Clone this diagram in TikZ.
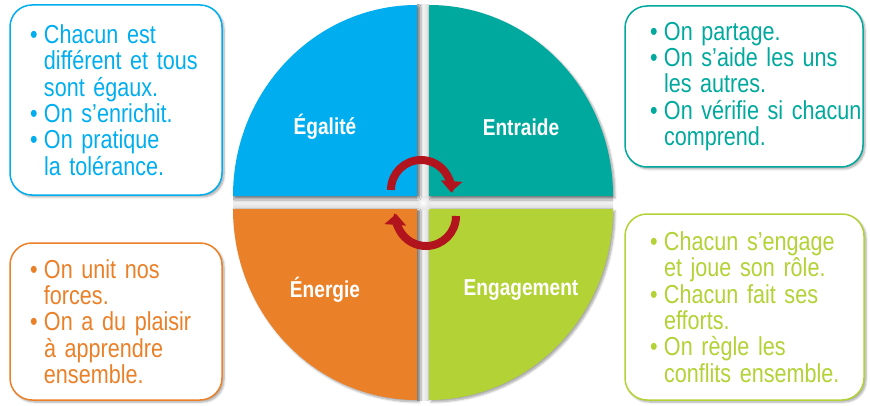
\documentclass[tikz,border=0pt]{standalone}
\usepackage{fontspec}
\setmainfont{Liberation Sans}[FakeStretch=0.83, WordSpace=0.62]
\usepackage{tikz}
\usetikzlibrary{arrows.meta, shadows.blur}

\definecolor{bleu}{RGB}{0,174,239}
\definecolor{sarcelle}{RGB}{0,169,157}
\definecolor{orange}{RGB}{234,128,40}
\definecolor{vert}{RGB}{178,210,53}
\definecolor{rouge}{RGB}{178,20,30}

\newcommand{\puce}[1]{\mbox{\makebox[14pt][l]{\textbullet}#1}}
\newcommand{\retrait}[1]{\mbox{\hspace*{14pt}#1}}

\tikzset{
	ombre/.style={blur shadow={shadow xshift=2pt, shadow yshift=-2pt, shadow blur steps=6, shadow opacity=35}},
	quart/.style={fill=#1, ombre},
	titre/.style={text=white, font=\fontsize{23}{25}\selectfont\bfseries},
	bulle/.style={draw=#1, text=#1, fill=white, line width=1.5pt, rounded corners=22pt, align=left, font=\fontsize{26}{26.3}\selectfont, ombre},
	fleche/.style={draw=rouge, line width=8pt, -{Triangle[width=21pt,length=11pt]}},
}

\begin{document}
\begin{tikzpicture}[x=1pt, y=1pt]
	\useasboundingbox (0,0) rectangle (870,405);
	
		% croix grise entre les quarts
		\shade[left color=gray!60, right color=gray!30, middle color=gray!10] (417,5) rectangle (429,400);
		\shade[top color=gray!55, bottom color=gray!30, middle color=gray!10] (233,196) rectangle (613,209);
		\shade[inner color=white, outer color=gray!20] (417,196) rectangle (429,209);
		
		\fill[quart=bleu] (417,209) -- (417,400) arc[start angle=90, end angle=180, x radius=184, y radius=191] -- cycle;
		\fill[quart=sarcelle] (429,209) -- (613,209) arc[start angle=0, end angle=90, x radius=184, y radius=191] -- cycle;
		\fill[quart=orange] (417,196) -- (233,196) arc[start angle=180, end angle=270, x radius=184, y radius=191] -- cycle;
		\fill[quart=vert] (429,196) -- (429,5) arc[start angle=270, end angle=360, x radius=184, y radius=191] -- cycle;
		
		\node[titre] (egalite) at (325,278) {Égalité};
		\node[titre] (entraide) at (521,278) {Entraide};
		\node[titre] (energie) at (325,115) {Énergie};
		\node[titre] (engagement) at (521,115) {Engagement};
		
		\coordinate (haut) at (421,215);
		\coordinate (bas) at (426,189);
		\draw[fleche] ([shift={(180:30)}]haut) arc[start angle=180, end angle=-4, radius=30];
		\draw[fleche] ([shift={(0:30)}]bas) arc[start angle=0, end angle=-184, radius=30];
		
		\node[bulle=bleu, inner xsep=20pt, text width=172pt, minimum height=190pt] (b1) at (116,305)
			{\puce{Chacun est}\\ \retrait{différent et tous}\\ \retrait{sont égaux.}\\ \puce{On s’enrichit.}\\ \puce{On pratique}\\ \retrait{la tolérance.}};
		\node[bulle=orange, inner xsep=20pt, text width=172pt, minimum height=157pt] (b2) at (116,83.5)
			{\puce{On unit nos}\\ \retrait{forces.}\\ \puce{On a du plaisir}\\ \retrait{à apprendre}\\ \retrait{ensemble.}};
		\node[bulle=sarcelle, inner xsep=25pt, text width=188pt, minimum height=161pt] (b3) at (744,318.5)
			{\puce{On partage.}\\ \puce{On s’aide les uns}\\ \retrait{les autres.}\\ \puce{On vérifie si chacun}\\ \retrait{comprend.}};
		\node[bulle=vert, inner xsep=25pt, text width=189pt, minimum height=186pt] (b4) at (744.5,98)
			{\puce{Chacun s’engage}\\ \retrait{et joue son rôle.}\\ \puce{Chacun fait ses}\\ \retrait{efforts.}\\ \puce{On règle les}\\ \retrait{conflits ensemble.}};
			
	\end{tikzpicture}
\end{document}
